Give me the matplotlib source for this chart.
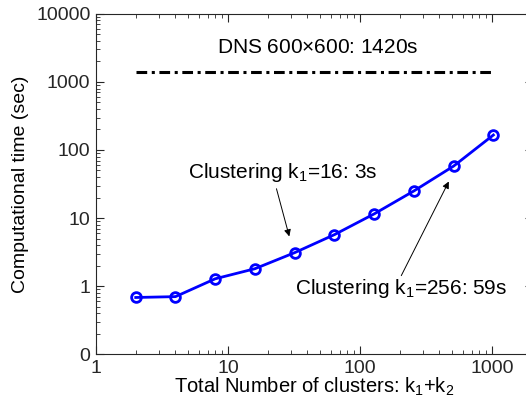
import matplotlib
matplotlib.use("Agg")
import matplotlib.pyplot as plt
from matplotlib.ticker import FixedLocator, NullFormatter, LogLocator

plt.rcParams["font.family"] = ["Liberation Sans", "DejaVu Sans"]
plt.rcParams["mathtext.default"] = "regular"

# number of clusters k1+k2 and computational time (sec)
clusters = [2, 4, 8, 16, 32, 64, 128, 256, 512, 1024]
times = [0.68, 0.70, 1.28, 1.8, 3.1, 5.7, 11.5, 25, 58, 166]
dns_x = [2, 1024]
dns_time = [1420, 1420]

y_ticks = [0.1, 1, 10, 100, 1000, 10000]
y_labels = ["0", "1", "10", "100", "1000", "10000"]
x_ticks = [1, 10, 100, 1000]
x_labels = ["1", "10", "100", "1000"]

fig = plt.figure(figsize=(5.26, 4.08), dpi=100)
ax = fig.add_axes([0.1825, 0.132, 0.831, 0.834])

ax.plot(clusters, times, "-o", color="#0000ff", lw=2.0, ms=7, mfc="none", mew=2.0)
ax.plot(dns_x, dns_time, color="black", lw=2.2, dashes=(3.5, 1.5, 1, 1.5))

ax.set_xscale("log")
ax.set_yscale("log")
ax.set_xlim(1, 2048)
ax.set_ylim(0.1, 10000)

ax.yaxis.set_major_locator(FixedLocator(y_ticks))
ax.set_yticklabels(y_labels)
ax.yaxis.set_minor_locator(LogLocator(base=10, subs=range(2, 10)))
ax.yaxis.set_minor_formatter(NullFormatter())
ax.xaxis.set_major_locator(FixedLocator(x_ticks))
ax.set_xticklabels(x_labels)
ax.xaxis.set_minor_locator(LogLocator(base=10, subs=range(2, 10)))
ax.xaxis.set_minor_formatter(NullFormatter())

ax.tick_params(which="both", direction="in", top=True, right=True, labelsize=14, colors="#262626", pad=4)
ax.tick_params(which="major", length=6, width=0.8)
ax.tick_params(which="minor", length=3, width=0.6)
for s in ax.spines.values():
    s.set_color("#262626")
    s.set_linewidth(0.8)

ax.set_xlabel("Total Number of clusters: $k_1$+$k_2$", fontsize=14.5, labelpad=-1)
ax.set_ylabel("Computational time (sec)", fontsize=14, labelpad=5)

ax.text(48, 3162, "DNS 600$\\times$600: 1420s", fontsize=15, ha="center", va="center")
ax.text(26, 46, "Clustering $k_1$=16: 3s", fontsize=15, ha="center", va="center")
ax.text(204, 0.93, "Clustering $k_1$=256: 59s", fontsize=15, ha="center", va="center")

ax.annotate("", xy=(29.5, 4.9), xytext=(23, 29.5),
            arrowprops=dict(arrowstyle="-|>", color="black", lw=0.7, mutation_scale=10))
ax.annotate("", xy=(481, 37.4), xytext=(201, 1.31),
            arrowprops=dict(arrowstyle="-|>", color="black", lw=0.7, mutation_scale=10))

fig.savefig("out.png", dpi=100)
